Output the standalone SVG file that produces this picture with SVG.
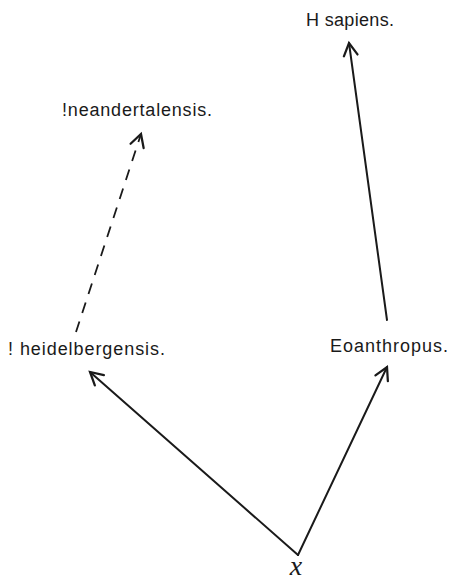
<svg xmlns="http://www.w3.org/2000/svg" width="452" height="585" viewBox="0 0 452 585">
<style>
.lbl{font-family:"Liberation Sans","DejaVu Sans",sans-serif;font-size:18px;fill:#1a1a1a}
.ln{stroke:#1a1a1a;stroke-width:2;fill:none;stroke-linecap:round}
.dash{stroke-dasharray:11 9;stroke-width:1.8;stroke-linecap:butt}
</style>
<defs>
<marker id="ah" markerUnits="userSpaceOnUse" markerWidth="20" markerHeight="20" viewBox="-12 -8 14 16" refX="0" refY="0" orient="auto">
<path d="M-10 -5.5 L0 0 L-10 5.5" fill="none" stroke="#1a1a1a" stroke-width="1.8" stroke-linecap="round"/>
</marker>
</defs>
<rect width="452" height="585" fill="#fff"/>
<g id="connectors">
<line class="ln" x1="298" y1="555" x2="90" y2="372" marker-end="url(#ah)"/>
<line class="ln" x1="298" y1="555" x2="387" y2="367" marker-end="url(#ah)"/>
<line class="ln" x1="387" y1="320" x2="349" y2="43" marker-end="url(#ah)"/>
<line class="ln dash" x1="76" y1="332" x2="141" y2="134" marker-end="url(#ah)"/>
</g>
<g id="sapiens"><text class="lbl" x="306" y="26" textLength="88" lengthAdjust="spacing">H sapiens.</text></g>
<g id="neandertalensis"><text class="lbl" x="62" y="116" textLength="150" lengthAdjust="spacing">!neandertalensis.</text></g>
<g id="heidelbergensis"><text class="lbl" x="8" y="355" textLength="157" lengthAdjust="spacing">! heidelbergensis.</text></g>
<g id="eoanthropus"><text class="lbl" x="330" y="352" textLength="118" lengthAdjust="spacing">Eoanthropus.</text></g>
<g id="x"><text x="296" y="575" text-anchor="middle" font-family="Liberation Serif,serif" font-style="italic" font-size="28" fill="#1a1a1a">x</text></g>
</svg>
